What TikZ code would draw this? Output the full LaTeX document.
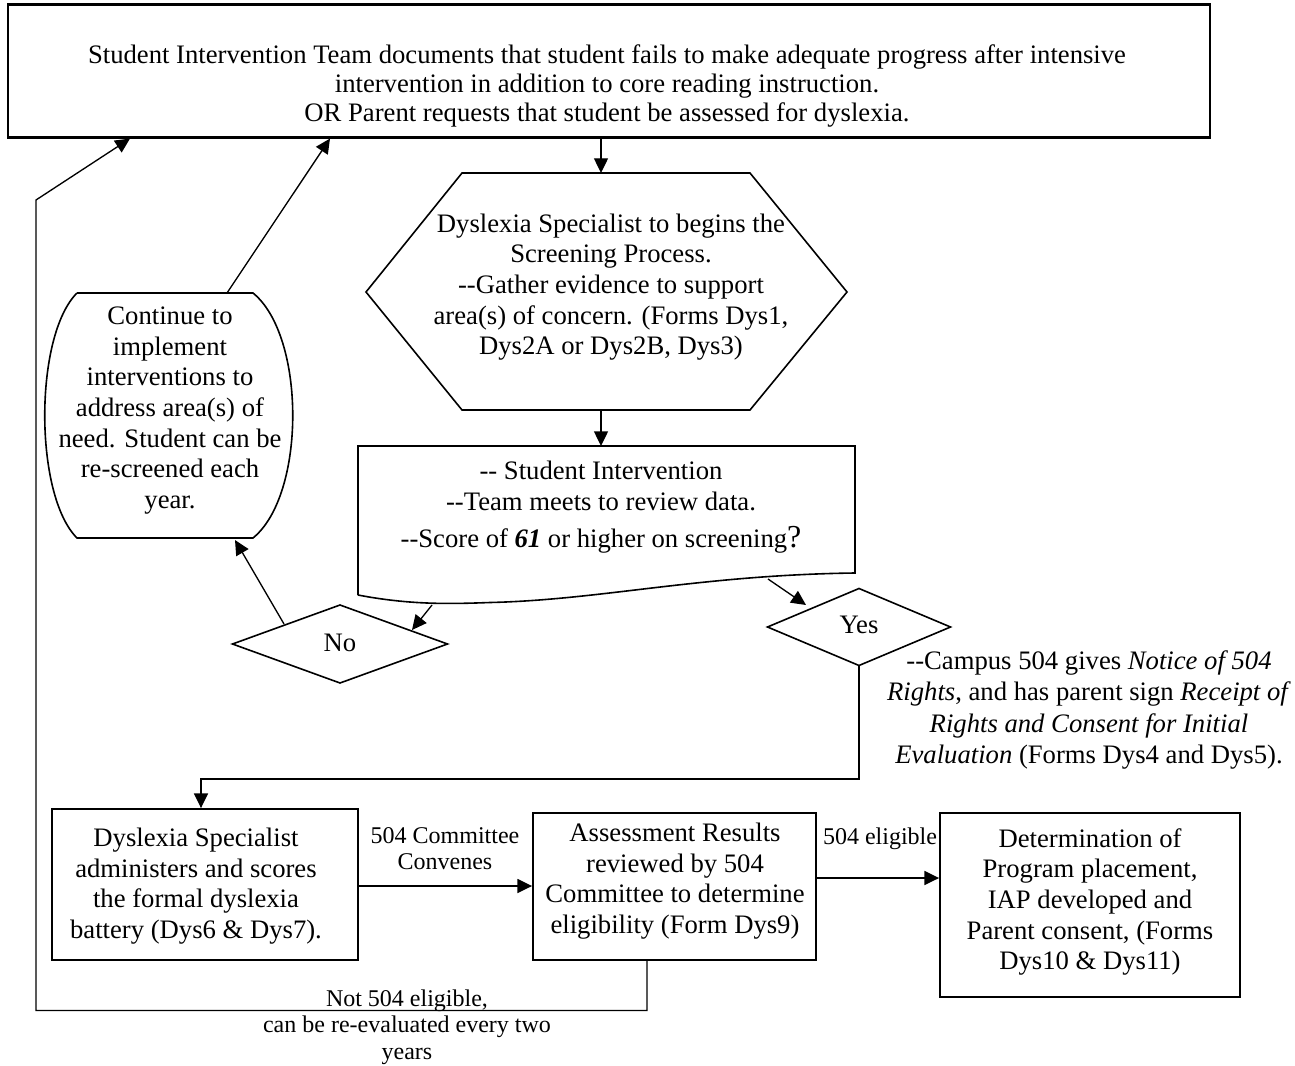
\documentclass[tikz,border=0pt]{standalone}
\usepackage{fontspec}
\setmainfont{Liberation Serif}[Ligatures=TeXOff]
\usetikzlibrary{arrows.meta,fit,calc}
\begin{document}
\begin{tikzpicture}[x=0.75pt,y=-0.75pt,
  boxline/.style={draw, line width=1.4pt, inner sep=0pt},
  shapeline/.style={line width=1.2pt, line join=miter},
  conn/.style={line width=1pt, -{Triangle[length=11pt,width=10.5pt]}},
  plainline/.style={line width=1pt},
  txt/.style={font=\fontsize{20}{23}\selectfont, align=center, inner sep=0pt},
  lbl/.style={font=\fontsize{18}{20}\selectfont, align=center, inner sep=0pt}]
\useasboundingbox (0,0) rectangle (1295,1066);

% ---- top box
\node[boxline, line width=1.6pt, fit={(8,4.5)(1210,137.5)}] (top) {};
\node[txt, font=\fontsize{20}{21.5}\selectfont] (toptext) at (607,86)
  {Student Intervention Team documents that student fails to make adequate progress after intensive\\
   intervention in addition to core reading instruction.\\
   OR Parent requests that student be assessed for dyslexia.};

% ---- hexagon
\coordinate (hexT) at (601,173);
\coordinate (hexB) at (601,410);
\draw[shapeline] (462,173) -- (750,173) -- (847,292) -- (750,410) -- (462,410) -- (366,292) -- cycle;
\node[txt] (hex) at (611,287)
  {Dyslexia Specialist to begins the\\ Screening Process.\\ --Gather evidence to support\\
   area(s) of concern. (Forms Dys1,\\ Dys2A or Dys2B, Dys3)};

% ---- document shape
\coordinate (siT) at (601,446);
\coordinate (siNo) at (432,605);
\coordinate (siYes) at (768,579);
\draw[shapeline] (358,595) -- (358,446) -- (855,446) -- (855,573)
  .. controls (700,575) and (600,600) .. (490,602.5)
  .. controls (450,604) and (410,605) .. (358,595);
\node[txt] (si) at (601,507)
  {-- Student Intervention\\ --Team meets to review data.\\[5pt]
   --Score of \textbf{\textit{61}} or higher on screening{\fontsize{24}{24}\selectfont ?}};

% ---- continue shape
\coordinate (contT) at (227,293);
\coordinate (contB) at (235,540);
\draw[shapeline] (77,293) -- (253,293) .. controls (306,336) and (306,495) .. (253,538)
  -- (77,538) .. controls (34,495) and (34,336) .. (77,293);
\node[txt] (cont) at (170,410.5)
  {Continue to\\ implement\\ interventions to\\ address area(s) of\\ need. Student can be\\ re-screened each\\ year.};

% ---- diamonds
\draw[shapeline] (232.5,644) -- (340,605) -- (447.5,644) -- (340,683) -- cycle;
\node[txt] (no) at (340,643) {No};
\coordinate (noIn) at (412,630);
\coordinate (noOut) at (284,624);
\draw[shapeline] (767.5,627) -- (859,588.5) -- (950.5,627) -- (859,665.5) -- cycle;
\node[txt] (yes) at (859,625) {Yes};
\coordinate (yesIn) at (806,605);
\coordinate (yesB) at (859,665.5);

\node[txt, font=\fontsize{20}{23.6}\selectfont] (campus) at (1089,710)
  {--Campus 504 gives \textit{Notice of 504}\\
   \textit{Rights}, and has parent sign \textit{Receipt of}\\
   \textit{Rights and Consent for Initial}\\
   \textit{Evaluation} (Forms Dys4 and Dys5).};

% ---- bottom boxes
\node[boxline, fit={(52,809)(358,960)}] (dys) {};
\node[txt] (dystext) at (196,886)
  {Dyslexia Specialist\\ administers and scores\\ the formal dyslexia\\ battery (Dys6 \& Dys7).};
\node[boxline, fit={(533,813)(816,960)}] (assess) {};
\node[txt] (assesstext) at (675,881)
  {Assessment Results\\ reviewed by 504\\ Committee to determine\\ eligibility (Form Dys9)};
\node[boxline, fit={(940,813)(1240,997)}] (det) {};
\node[txt] (dettext) at (1090,902)
  {Determination of\\ Program placement,\\ IAP developed and\\ Parent consent, (Forms\\ Dys10 \& Dys11)};

\node[lbl] (convenes) at (445,848.5) {504 Committee\\ Convenes};
\node[lbl] (elig) at (880,839) {504 eligible};
\node[lbl] (notelig) at (407,1027) {Not 504 eligible,\\ can be re-evaluated every two\\ years};

% ---- connectors
\draw[conn] (top.south -| hexT) -- (hexT);
\draw[conn] (hexB) -- (siT);
\draw[conn] (siNo) -- (noIn);
\draw[conn] (siYes) -- (yesIn);
\draw[conn] (noOut) -- (contB);
\draw[conn] (contT) -- (top.south -| 330,0);
\draw[conn] (yesB) -- (yesB |- 0,779) -- (201,779) -- (dys.north -| 201,0);
\draw[conn] (dys.east |- 0,886) -- (assess.west |- 0,886);
\draw[conn] (assess.east |- 0,878) -- (det.west |- 0,878);
\draw[conn] (assess.south -| 647,0) -- (647,1010.5) -- (36,1010.5) -- (36,200) -- (top.south -| 130,0);
\end{tikzpicture}
\end{document}
